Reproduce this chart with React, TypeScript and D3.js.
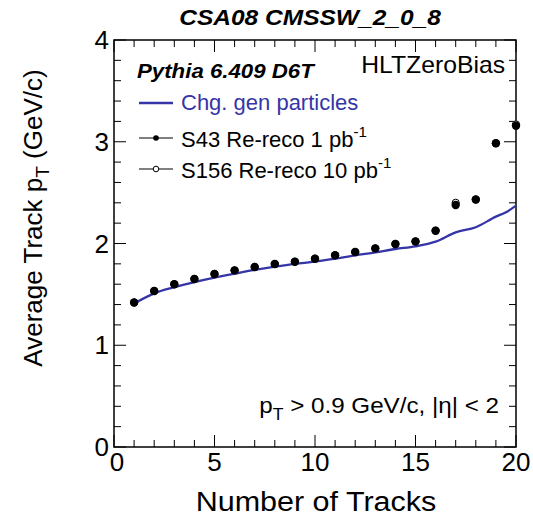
import React from "react";
import * as d3 from "d3";

const nTracks = [1, 2, 3, 4, 5, 6, 7, 8, 9, 10, 11, 12, 13, 14, 15, 16, 17, 18, 19, 20];
const s43Values = [1.42, 1.533, 1.60, 1.651, 1.70, 1.736, 1.769, 1.798, 1.821, 1.851, 1.884, 1.916, 1.952, 1.995, 2.02, 2.126, 2.378, 2.432, 2.985, 3.158];
const s156Values = [1.42, 1.533, 1.60, 1.651, 1.70, 1.736, 1.769, 1.798, 1.821, 1.851, 1.884, 1.916, 1.952, 1.995, 2.02, 2.126, 2.40, 2.432, 2.985, 3.17];
const genX = [1, 2, 3, 4, 5, 6, 7, 8, 9, 10, 11, 12, 13, 14, 15, 16, 17, 18, 19, 19.5, 20];
const genValues = [1.41, 1.51, 1.57, 1.62, 1.664, 1.703, 1.74, 1.772, 1.80, 1.821, 1.851, 1.884, 1.913, 1.946, 1.972, 2.018, 2.11, 2.16, 2.264, 2.307, 2.372];
const xTicks = [0, 5, 10, 15, 20];
const yTicks = [0, 1, 2, 3, 4];

const W = 533, H = 516;
const L = 114, R = 516, T = 40, B = 447;
const FONT = "'Liberation Sans', Arial, sans-serif";
const BLUE = "#3535a8";

function ST({ x, y, sx = 1, anchor = "start", size, children, ...rest }: any) {
  return (
    <g transform={`translate(${x},${y}) scale(${sx},1)`}>
      <text x={0} y={0} fontSize={size} textAnchor={anchor} {...rest}>{children}</text>
    </g>
  );
}

export default function App() {
  const x = d3.scaleLinear().domain([0, 20]).range([L, R]);
  const y = d3.scaleLinear().domain([0, 4]).range([B, T]);
  const xMinor = d3.range(0, 21, 1);
  const yMinor = d3.range(0, 4.001, 0.2);
  const line = d3.line<number>()
    .x((_, i) => x(genX[i]))
    .y((d) => y(d))
    .curve(d3.curveMonotoneX);

  return (
    <svg width={W} height={H} style={{ position: "absolute", left: 0, top: 0, background: "#fff" }} fontFamily={FONT}>
      <rect x={0} y={0} width={W} height={H} fill="#fff" />
      {xMinor.map((v) => {
        const major = v % 5 === 0;
        const len = major ? 12 : 7;
        return (
          <g key={"xt" + v} stroke="#000" strokeWidth={1}>
            <line x1={x(v)} x2={x(v)} y1={B} y2={B - len} />
            <line x1={x(v)} x2={x(v)} y1={T} y2={T + len} />
          </g>
        );
      })}
      {yMinor.map((v, i) => {
        const major = i % 5 === 0;
        const len = major ? 12 : 7;
        return (
          <g key={"yt" + i} stroke="#000" strokeWidth={1}>
            <line x1={L} x2={L + len} y1={y(v)} y2={y(v)} />
            <line x1={R} x2={R - len} y1={y(v)} y2={y(v)} />
          </g>
        );
      })}
      <rect x={L} y={T} width={R - L} height={B - T} fill="none" stroke="#000" strokeWidth={1.5} />

      {xTicks.map((v) => (
        <text key={"xl" + v} x={x(v) + (v === 0 ? 3 : 0)} y={471} fontSize={26} textAnchor="middle" fill="#000">{v}</text>
      ))}
      {yTicks.map((v) => (
        <text key={"yl" + v} x={109} y={y(v) + 9} fontSize={26} textAnchor="end" fill="#000">{v}</text>
      ))}

      <ST x={316} y={511} sx={1.09} size={28} anchor="middle" fill="#000">Number of Tracks</ST>
      <text transform="translate(42,218) rotate(-90)" fontSize={26} textAnchor="middle" fill="#000">
        Average Track p<tspan dy={7} fontSize={19}>T</tspan><tspan dy={-7}>  (GeV/c)</tspan>
      </text>

      <ST x={310} y={25} sx={1.115} size={22} anchor="middle" fontWeight="bold" fontStyle="italic" fill="#000">CSA08 CMSSW_2_0_8</ST>

      <path d={line(genValues) || ""} fill="none" stroke={BLUE} strokeWidth={2.3} />

      {nTracks.map((n, i) => (
        <circle key={"o" + n} cx={x(n)} cy={y(s156Values[i])} r={3.6} fill="#fff" stroke="#000" strokeWidth={1} />
      ))}
      {nTracks.map((n, i) => (
        <circle key={"f" + n} cx={x(n)} cy={y(s43Values[i])} r={4.2} fill="#000" />
      ))}

      <ST x={137} y={78} sx={1.06} size={21} fontWeight="bold" fontStyle="italic" fill="#000">Pythia 6.409 D6T</ST>
      <ST x={505} y={73} sx={1.03} size={24} anchor="end" fill="#000">HLTZeroBias</ST>
      <line x1={139} x2={173} y1={103} y2={103} stroke={BLUE} strokeWidth={2.3} />
      <ST x={181} y={110} size={22} fill={BLUE}>Chg. gen particles</ST>
      <line x1={139} x2={173} y1={138} y2={138} stroke="#000" strokeWidth={1} />
      <circle cx={156} cy={138} r={2.8} fill="#000" />
      <ST x={181} y={147} size={22} fill="#000">S43 Re-reco 1 pb<tspan dy={-10} fontSize={15}>-1</tspan></ST>
      <line x1={139} x2={173} y1={169} y2={169} stroke="#000" strokeWidth={1} />
      <circle cx={156} cy={169} r={2.8} fill="#fff" stroke="#000" strokeWidth={1} />
      <ST x={181} y={178} size={22} fill="#000">S156 Re-reco 10 pb<tspan dy={-10} fontSize={15}>-1</tspan></ST>

      <ST x={499} y={413} sx={1.1} size={22} anchor="end" fill="#000">
        p<tspan dy={7} fontSize={16}>T</tspan><tspan dy={-7}> &gt; 0.9 GeV/c, |η| &lt; 2</tspan>
      </ST>
    </svg>
  );
}
